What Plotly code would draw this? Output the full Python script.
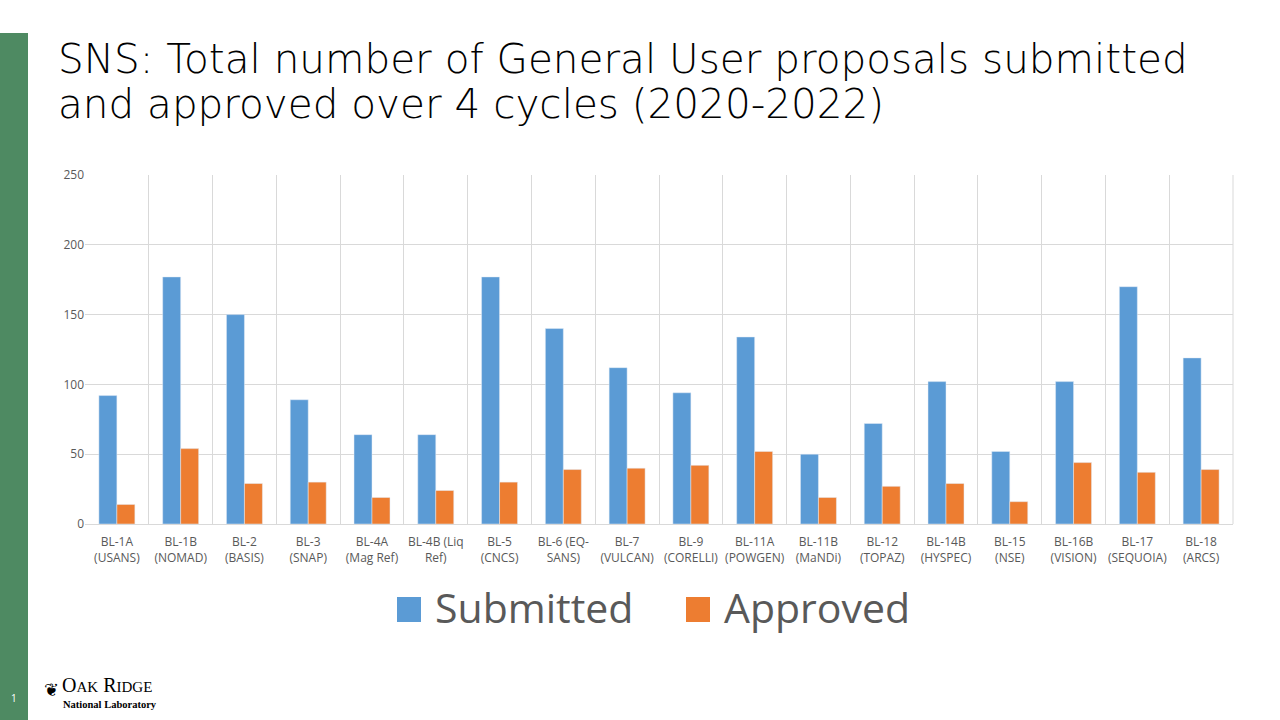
import plotly.graph_objects as go

categories = [
    "BL-1A<br>(USANS)", "BL-1B<br>(NOMAD)", "BL-2<br>(BASIS)", "BL-3<br>(SNAP)",
    "BL-4A<br>(Mag Ref)", "BL-4B (Liq<br>Ref)", "BL-5<br>(CNCS)", "BL-6 (EQ-<br>SANS)",
    "BL-7<br>(VULCAN)", "BL-9<br>(CORELLI)", "BL-11A<br>(POWGEN)", "BL-11B<br>(MaNDi)",
    "BL-12<br>(TOPAZ)", "BL-14B<br>(HYSPEC)", "BL-15<br>(NSE)", "BL-16B<br>(VISION)",
    "BL-17<br>(SEQUOIA)", "BL-18<br>(ARCS)",
]
submitted = [92, 177, 150, 89, 64, 64, 177, 140, 112, 94, 134, 50, 72, 102, 52, 102, 170, 119]
approved = [14, 54, 29, 30, 19, 24, 30, 39, 40, 42, 52, 19, 27, 29, 16, 44, 37, 39]
y_ticks = [0, 50, 100, 150, 200, 250]
title_lines = ["SNS: Total number of General User proposals submitted",
               "and approved over 4 cycles (2020-2022)"]
series_names = ["Submitted", "Approved"]

BLUE = "#5B9BD5"
ORANGE = "#ED7D31"
GREEN = "#4E8A62"
GRID = "#D9D9D9"
TEXT = "#595959"

L, R, T, B = 85, 1233, 175, 524
W, H = 1280, 720


def px(x):
    return (x - L) / (R - L)


def py(y):
    return (B - y) / (B - T)


fig = go.Figure()
fig.add_trace(go.Bar(x=categories, y=submitted, name=series_names[0], marker_color=BLUE))
fig.add_trace(go.Bar(x=categories, y=approved, name=series_names[1], marker_color=ORANGE))

fig.update_layout(
    width=W, height=H,
    margin=dict(l=L, r=W - R, t=T, b=H - B),
    paper_bgcolor="white", plot_bgcolor="white",
    barmode="group", bargap=0.436, bargroupgap=0,
    showlegend=False,
    font=dict(family="Open Sans", color=TEXT),
)
fig.update_xaxes(
    type="category", tickson="boundaries", showgrid=True, gridcolor=GRID, gridwidth=1,
    showline=True, linecolor=GRID, linewidth=1, mirror=False,
    ticks="", ticklabelstandoff=7,
    tickfont=dict(size=12, color=TEXT, family="Open Sans"), tickangle=0,
)
fig.update_yaxes(
    range=[0, 250], tickvals=y_ticks, showgrid=True, gridcolor=GRID, gridwidth=1,
    zeroline=False, showline=False, ticks="",
    tickfont=dict(size=12, color=TEXT, family="Open Sans"),
)

shapes = []
shapes.append(dict(type="rect", xref="paper", yref="paper", x0=px(0), x1=px(28),
                   y0=py(720), y1=py(33), fillcolor=GREEN, line_width=0, layer="below"))
shapes.append(dict(type="line", xref="paper", yref="paper", x0=1, x1=1, y0=0, y1=1,
                   line=dict(color=GRID, width=1)))
shapes.append(dict(type="rect", xref="paper", yref="paper", x0=px(397), x1=px(421),
                   y0=py(622), y1=py(597), fillcolor=BLUE, line_width=0))
shapes.append(dict(type="rect", xref="paper", yref="paper", x0=px(686), x1=px(710),
                   y0=py(622), y1=py(597), fillcolor=ORANGE, line_width=0))
fig.update_layout(shapes=shapes)

ann = []
for i, line in enumerate(title_lines):
    ann.append(dict(xref="paper", yref="paper", x=px(56), y=py(59 + 45 * i),
                    xanchor="left", yanchor="middle", text=line, showarrow=False,
                    font=dict(family="DejaVu Sans", size=40.5, color="#000000", weight=300)))
ann.append(dict(xref="paper", yref="paper", x=px(433), y=py(607), xanchor="left", yanchor="middle",
                text=series_names[0], showarrow=False, font=dict(family="Open Sans", size=41, color=TEXT)))
ann.append(dict(xref="paper", yref="paper", x=px(722), y=py(607), xanchor="left", yanchor="middle",
                text=series_names[1], showarrow=False, font=dict(family="Open Sans", size=41, color=TEXT)))
ann.append(dict(xref="paper", yref="paper", x=px(14), y=py(698), xanchor="center", yanchor="middle",
                text="1", showarrow=False, font=dict(family="Open Sans", size=10, color="white")))
ann.append(dict(xref="paper", yref="paper", x=px(60), y=py(698), xanchor="left", yanchor="bottom",
                text="O<span style='font-size:15px'>AK</span> R<span style='font-size:15px'>IDGE</span>",
                showarrow=False, font=dict(family="Liberation Serif", size=20, color="black")))
ann.append(dict(xref="paper", yref="paper", x=px(61), y=py(697), xanchor="left", yanchor="top",
                text="National Laboratory", showarrow=False,
                font=dict(family="Liberation Serif", size=10.5, color="black", weight="bold")))
ann.append(dict(xref="paper", yref="paper", x=px(61), y=py(689), xanchor="right", yanchor="middle",
                text="❦", showarrow=False, font=dict(family="DejaVu Sans", size=18, color="black")))
fig.update_layout(annotations=ann)

fig.write_html("out.html", config={"displayModeBar": False},
               post_script="document.body.style.margin='0';")
